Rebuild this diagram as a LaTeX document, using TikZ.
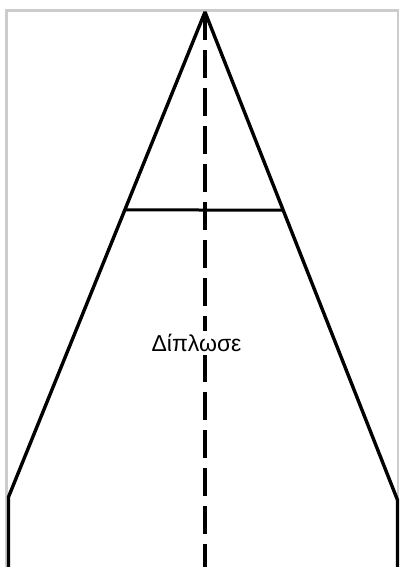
\documentclass[tikz,border=0pt]{standalone}
\usepackage{fontspec}
\setmainfont{Liberation Sans}
\usetikzlibrary{calc}
\begin{document}
\begin{tikzpicture}[x=1pt,y=-1pt,every node/.style={font=\fontsize{23}{27}\selectfont}]
		\useasboundingbox (0,0) rectangle (400,567);
		% paper edge
		\draw[black!20,line width=2.8pt] (6.5,567) -- (6.5,10.5) -- (398,10.5) -- (398,567);
		\coordinate (apex) at (205,12);
		\coordinate (footL) at (8.5,497);
		\coordinate (footR) at (397.5,500);
		\coordinate (baseL) at (8.5,567);
		\coordinate (baseR) at (397.5,567);
		\coordinate (baseM) at (205,567);
		\coordinate (crossL) at ($(apex)!0.408!(footL)$);
		\coordinate (crossR) at ($(apex)!0.406!(footR)$);
		\draw[line width=3.4pt,line join=bevel] (baseL) -- (footL) -- (apex) -- (footR) -- (baseR);
		\draw[line width=3pt] (crossL) -- (crossR);
		\draw[line width=3.8pt,dash pattern=on 28pt off 10pt] (apex) -- (baseM);
		\node[fill=white,inner sep=3pt] (fold) at (196.5,343) {Δίπλωσε};
	\end{tikzpicture}
\end{document}
